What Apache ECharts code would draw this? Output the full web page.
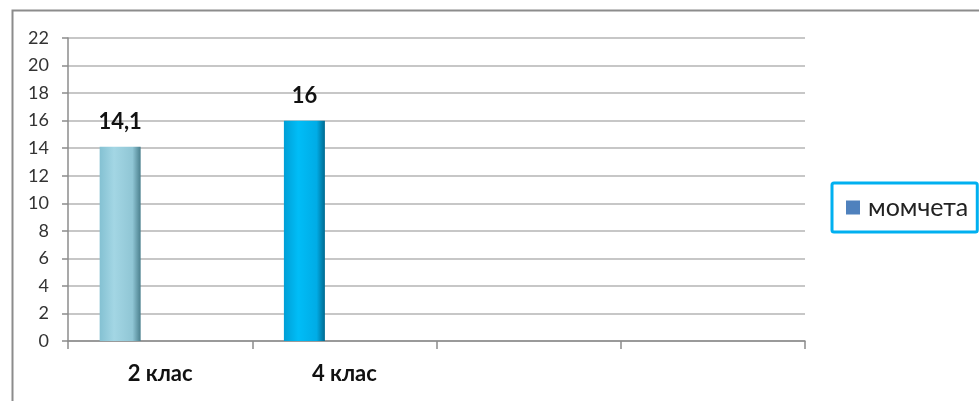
<!DOCTYPE html>
<html>
<head>
<meta charset="utf-8">
<script src="https://cdn.jsdelivr.net/npm/echarts@6/dist/echarts.min.js"></script>
<style>
html,body{margin:0;padding:0;background:#fff;}
#chart{width:979px;height:401px;}
</style>
</head>
<body>
<div id="chart"></div>
<script>
const categories = ['2 клас', '4 клас', '', ''];
const boysValues = [14.1, 16, null, null];
const seriesName = 'момчета';
const yTicks = { min: 0, max: 22, interval: 2 };

const FONT = 'Lato, "Open Sans", "Noto Sans", sans-serif';
const barFills = [
  ['#84c1d2', '#a3d6e4', '#90c6d5', '#4a7f8d'],
  ['#009fd6', '#00bdf7', '#00ace6', '#006a90']
];
function fill(c) {
  return {
    type: 'linear', x: 0, y: 0, x2: 1, y2: 0,
    colorStops: [
      { offset: 0, color: c[0] },
      { offset: 0.35, color: c[1] },
      { offset: 0.8, color: c[2] },
      { offset: 1, color: c[3] }
    ]
  };
}
const chart = echarts.init(document.getElementById('chart'), null, { renderer: 'canvas' });
chart.setOption({
  backgroundColor: '#ffffff',
  animation: false,
  textStyle: { fontFamily: FONT },
  graphic: [{
    type: 'rect', left: 10, top: 8, silent: true,
    shape: { x: 0, y: 0, width: 990, height: 420 },
    style: { fill: 'none', stroke: '#8c8c8c', lineWidth: 2 }
  }],
  grid: { left: 68, right: 174, top: 38, bottom: 60, containLabel: false },
  legend: {
    data: [seriesName],
    left: 832, top: 183,
    padding: [12, 9, 12, 14],
    borderColor: '#00b0f0', borderWidth: 3, borderRadius: 2,
    icon: 'rect', itemWidth: 14, itemHeight: 14, itemGap: 8,
    textStyle: { fontSize: 25, color: '#222', fontFamily: FONT, padding: [0, 0, 0, 3] }
  },
  xAxis: {
    type: 'category',
    data: categories,
    axisLine: { lineStyle: { color: '#8c8c8c', width: 1.5 } },
    axisTick: { show: true, alignWithLabel: false, length: 8, lineStyle: { color: '#8c8c8c', width: 1.5 } },
    axisLabel: { margin: 22, fontSize: 22, fontWeight: 'bold', color: '#111', fontFamily: FONT }
  },
  yAxis: {
    type: 'value',
    min: yTicks.min, max: yTicks.max, interval: yTicks.interval,
    axisLine: { show: true, lineStyle: { color: '#8c8c8c', width: 1.5 } },
    axisTick: { show: true, inside: false, length: 6, lineStyle: { color: '#8c8c8c', width: 1.5 } },
    axisLabel: { margin: 19, fontSize: 18, color: '#333', fontFamily: FONT },
    splitLine: { show: true, lineStyle: { color: '#b5b5b5', width: 1.5 } }
  },
  series: [
    {
      name: seriesName,
      type: 'bar',
      barWidth: 41,
      barGap: '95%',
      itemStyle: { color: '#4f81bd' },
      data: boysValues.map((v, i) => v == null ? '-' : ({
        value: v,
        itemStyle: { color: fill(barFills[i]) }
      })),
      label: {
        show: true, position: 'top', distance: 14,
        fontSize: 22, fontWeight: 'bold', color: '#111', fontFamily: FONT,
        formatter: p => String(p.value).replace('.', ',')
      }
    },
    {
      name: '',
      type: 'bar',
      barWidth: 41,
      data: categories.map(() => '-')
    }
  ]
});
</script>
</body>
</html>
